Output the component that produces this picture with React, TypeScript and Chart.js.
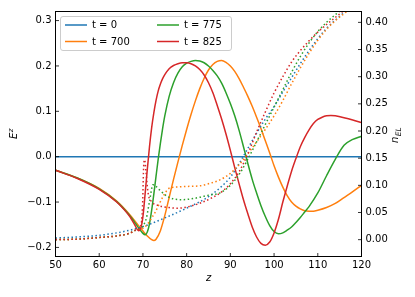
import React, { useEffect, useRef } from "react";
import { Chart, registerables } from "chart.js";

Chart.register(...registerables);

const FONT = "'DejaVu Sans', 'Liberation Sans', sans-serif";

// ---- tick labels ----
const xTickValues = [50, 60, 70, 80, 90, 100, 110, 120];
const eTickValues = [-0.2, -0.1, 0, 0.1, 0.2, 0.3];
const nTickValues = [0, 0.05, 0.1, 0.15, 0.2, 0.25, 0.3, 0.35, 0.4];

// ---- series ----
const seriesLabels = ["t = 0", "t = 700", "t = 775", "t = 825"];
const seriesColors = ["#1f77b4", "#ff7f0e", "#2ca02c", "#d62728"];

// E^z (left axis, solid)
const zE0 = [50, 120];
const e0 = [0, 0];

const zE700 = [50, 55, 60, 64, 67, 69, 70, 71, 72, 72.5, 73, 74, 75, 76, 77, 78, 79, 80, 81, 82, 83, 84, 85, 86, 87, 88, 89, 90, 91, 92, 93, 94, 95, 96, 97, 98, 99, 100, 101, 102, 103, 104, 105, 106, 107, 108, 109, 110, 112, 114, 116, 118, 120];
const e700 = [-0.03, -0.047, -0.07, -0.098, -0.128, -0.152, -0.164, -0.175, -0.183, -0.185, -0.182, -0.163, -0.13, -0.09, -0.05, -0.012, 0.025, 0.06, 0.093, 0.123, 0.15, 0.173, 0.191, 0.203, 0.21, 0.212, 0.208, 0.2, 0.188, 0.172, 0.153, 0.133, 0.111, 0.087, 0.062, 0.035, 0.008, -0.02, -0.045, -0.067, -0.086, -0.1, -0.109, -0.115, -0.119, -0.12, -0.12, -0.118, -0.112, -0.103, -0.09, -0.077, -0.063];

const zE775 = [50, 55, 60, 64, 67, 68, 69, 70, 70.5, 71, 71.5, 72, 72.5, 73, 73.5, 74, 74.5, 75, 76, 77, 78, 79, 80, 81, 82, 83, 84, 85, 86, 87, 88, 89, 90, 91, 92, 93, 94, 95, 96, 97, 98, 99, 100, 101, 102, 103, 104, 105, 106, 107, 108, 110, 112, 114, 116, 118, 120];
const e775 = [-0.03, -0.047, -0.071, -0.099, -0.13, -0.143, -0.157, -0.169, -0.172, -0.166, -0.148, -0.118, -0.082, -0.043, -0.005, 0.03, 0.062, 0.09, 0.133, 0.163, 0.184, 0.198, 0.206, 0.21, 0.212, 0.211, 0.207, 0.2, 0.19, 0.178, 0.162, 0.141, 0.117, 0.09, 0.058, 0.022, -0.015, -0.05, -0.08, -0.108, -0.132, -0.152, -0.165, -0.17, -0.168, -0.162, -0.155, -0.145, -0.134, -0.122, -0.11, -0.08, -0.042, -0.006, 0.025, 0.038, 0.045];

const zE825 = [50, 55, 60, 64, 66, 67, 68, 69, 69.5, 70, 70.5, 71, 71.5, 72, 72.5, 73, 73.5, 74, 74.5, 75, 76, 77, 78, 79, 80, 81, 82, 83, 84, 85, 86, 87, 88, 89, 90, 91, 92, 93, 94, 95, 96, 97, 98, 99, 100, 101, 102, 103, 104, 105, 106, 107, 108, 109, 110, 111, 112, 113, 114, 116, 118, 120];
const e825 = [-0.03, -0.048, -0.072, -0.1, -0.12, -0.132, -0.148, -0.163, -0.158, -0.132, -0.082, -0.028, 0.022, 0.064, 0.097, 0.124, 0.145, 0.16, 0.172, 0.181, 0.194, 0.201, 0.205, 0.207, 0.207, 0.205, 0.2, 0.192, 0.18, 0.163, 0.141, 0.113, 0.083, 0.05, 0.014, -0.024, -0.06, -0.095, -0.126, -0.155, -0.177, -0.191, -0.195, -0.188, -0.168, -0.138, -0.1, -0.065, -0.032, -0.004, 0.022, 0.042, 0.059, 0.073, 0.082, 0.087, 0.09, 0.091, 0.09, 0.086, 0.081, 0.075];

// n_EL (right axis, dotted)
const zN0 = [50, 55, 60, 65, 70, 75, 80, 85, 88, 90, 92, 94, 96, 98, 100, 102, 104, 106, 108, 110, 112, 114, 116, 118, 120];
const n0 = [0.003, 0.005, 0.008, 0.014, 0.024, 0.04, 0.058, 0.079, 0.098, 0.115, 0.14, 0.168, 0.196, 0.222, 0.245, 0.272, 0.298, 0.324, 0.348, 0.37, 0.389, 0.404, 0.418, 0.431, 0.443];

const zN700 = [50, 55, 60, 65, 67, 68.5, 69.5, 70, 71, 72, 72.7, 74, 75, 76.1, 78, 80, 83, 85, 87.6, 90, 92, 94, 96, 98, 100, 102, 104, 106, 108, 110, 112, 114, 116, 118, 120];
const n700 = [0, 0.001, 0.004, 0.008, 0.012, 0.018, 0.02, 0.021, 0.028, 0.04, 0.049, 0.07, 0.085, 0.095, 0.097, 0.098, 0.099, 0.103, 0.11, 0.122, 0.138, 0.158, 0.18, 0.203, 0.228, 0.256, 0.287, 0.316, 0.343, 0.367, 0.387, 0.403, 0.416, 0.428, 0.44];

const zN775 = [50, 55, 60, 65, 67, 68.5, 69.5, 70, 70.8, 71.5, 72.3, 73, 74, 75.5, 77, 79, 81, 83, 85, 87.6, 90, 92, 94, 96, 98, 100, 102, 104, 106, 108, 110, 112, 114, 116, 118, 120];
const n775 = [0, 0.001, 0.004, 0.008, 0.012, 0.018, 0.022, 0.025, 0.04, 0.07, 0.101, 0.098, 0.09, 0.08, 0.075, 0.0735, 0.075, 0.078, 0.082, 0.086, 0.1, 0.12, 0.148, 0.18, 0.212, 0.244, 0.276, 0.308, 0.337, 0.362, 0.383, 0.4, 0.414, 0.427, 0.439, 0.45];

const zN825 = [50, 55, 60, 65, 67, 68.5, 69.5, 69.9, 70.2, 70.4, 70.7, 71.2, 72, 73.5, 76, 78, 80, 83, 86, 88, 90, 92, 94, 96, 98, 100, 102, 104, 106, 108, 110, 112, 114, 116, 118, 120];
const n825 = [0, 0.001, 0.004, 0.008, 0.012, 0.018, 0.025, 0.06, 0.14, 0.147, 0.125, 0.085, 0.07, 0.063, 0.059, 0.058, 0.06, 0.067, 0.078, 0.088, 0.103, 0.125, 0.158, 0.198, 0.235, 0.27, 0.3, 0.327, 0.348, 0.366, 0.382, 0.396, 0.409, 0.422, 0.435, 0.448];

const eSeries = [
  [zE0, e0],
  [zE700, e700],
  [zE775, e775],
  [zE825, e825],
];
const nSeries = [
  [zN0, n0],
  [zN700, n700],
  [zN775, n775],
  [zN825, n825],
];

function pts(zs: number[], vs: number[]) {
  return zs.map((z, i) => ({ x: z, y: vs[i] }));
}

function fmtMinus(s: string) {
  return s.replace("-", "\u2212");
}

const decorPlugin = {
  id: "decor",
  afterDraw(chart: any) {
    const ctx: CanvasRenderingContext2D = chart.ctx;
    const { left, right, top, bottom } = chart.chartArea;
    ctx.save();

    // inward tick marks
    ctx.strokeStyle = "#000";
    ctx.lineWidth = 0.8;
    const tl = 3.5;
    const xs = chart.scales.x;
    xs.ticks.forEach((t: any) => {
      const p = xs.getPixelForValue(t.value);
      ctx.beginPath();
      ctx.moveTo(p, bottom);
      ctx.lineTo(p, bottom - tl);
      ctx.stroke();
    });
    const ys = chart.scales.y;
    ys.ticks.forEach((t: any) => {
      const p = ys.getPixelForValue(t.value);
      ctx.beginPath();
      ctx.moveTo(left, p);
      ctx.lineTo(left + tl, p);
      ctx.stroke();
    });
    const y2 = chart.scales.y2;
    y2.ticks.forEach((t: any) => {
      const p = y2.getPixelForValue(t.value);
      ctx.beginPath();
      ctx.moveTo(right, p);
      ctx.lineTo(right - tl, p);
      ctx.stroke();
    });

    // frame
    ctx.lineWidth = 1;
    ctx.strokeStyle = "#000";
    ctx.strokeRect(left, top, right - left, bottom - top);

    // axis titles
    ctx.fillStyle = "#000";
    ctx.textBaseline = "alphabetic";
    ctx.textAlign = "left";
    // left: E^z
    ctx.save();
    ctx.translate(17, 139);
    ctx.rotate(-Math.PI / 2);
    ctx.font = `italic 10px ${FONT}`;
    ctx.fillText("E", 0, 0);
    const wE = ctx.measureText("E").width;
    ctx.font = `italic 7px ${FONT}`;
    ctx.fillText("z", wE + 0.5, -4);
    ctx.restore();
    // right: n_EL
    ctx.save();
    ctx.translate(398, 143);
    ctx.rotate(-Math.PI / 2);
    ctx.font = `italic 10px ${FONT}`;
    ctx.fillText("n", 0, 0);
    const wn = ctx.measureText("n").width;
    ctx.font = `italic 7.5px ${FONT}`;
    ctx.fillText("EL", wn + 0.3, 2.5);
    ctx.restore();
    // bottom: z
    ctx.font = `italic 10px ${FONT}`;
    ctx.textAlign = "center";
    ctx.fillText("z", (left + right) / 2, 281);

    // legend
    const bx = 60.5, by = 16.5, bw = 171, bh = 34, r = 2.5;
    ctx.beginPath();
    ctx.moveTo(bx + r, by);
    ctx.lineTo(bx + bw - r, by);
    ctx.arcTo(bx + bw, by, bx + bw, by + r, r);
    ctx.lineTo(bx + bw, by + bh - r);
    ctx.arcTo(bx + bw, by + bh, bx + bw - r, by + bh, r);
    ctx.lineTo(bx + r, by + bh);
    ctx.arcTo(bx, by + bh, bx, by + bh - r, r);
    ctx.lineTo(bx, by + r);
    ctx.arcTo(bx, by, bx + r, by, r);
    ctx.closePath();
    ctx.fillStyle = "rgba(255,255,255,0.8)";
    ctx.fill();
    ctx.strokeStyle = "#cccccc";
    ctx.lineWidth = 1;
    ctx.stroke();

    const colX = [65, 157];
    const rowY = [25, 41.5];
    ctx.font = `10px ${FONT}`;
    ctx.textAlign = "left";
    ctx.textBaseline = "middle";
    for (let i = 0; i < seriesLabels.length; i++) {
      const c = Math.floor(i / 2);
      const rr = i % 2;
      const x0 = colX[c];
      const y0 = rowY[rr];
      ctx.strokeStyle = seriesColors[i];
      ctx.lineWidth = 1.5;
      ctx.beginPath();
      ctx.moveTo(x0, y0);
      ctx.lineTo(x0 + 22, y0);
      ctx.stroke();
      ctx.fillStyle = "#000";
      ctx.fillText(seriesLabels[i], x0 + 27, y0 + 0.5);
    }
    ctx.restore();
  },
};

export default function App() {
  const ref = useRef<HTMLCanvasElement | null>(null);

  useEffect(() => {
    if (!ref.current) return;
    const datasets: any[] = [];
    // matplotlib draw order: solids (blue..red), then dotted (blue..red); last drawn on top
    let order = 100;
    eSeries.forEach(([zs, vs], i) => {
      datasets.push({
        label: seriesLabels[i],
        data: pts(zs, vs),
        yAxisID: "y",
        borderColor: seriesColors[i],
        backgroundColor: seriesColors[i],
        borderWidth: 1.5,
        pointRadius: 0,
        fill: false,
        cubicInterpolationMode: "monotone",
        order: order--,
      });
    });
    nSeries.forEach(([zs, vs], i) => {
      datasets.push({
        label: seriesLabels[i] + " n_EL",
        data: pts(zs, vs),
        yAxisID: "y2",
        borderColor: seriesColors[i],
        backgroundColor: seriesColors[i],
        borderWidth: 1.5,
        borderDash: [1.5, 2.5],
        borderCapStyle: "butt",
        pointRadius: 0,
        fill: false,
        cubicInterpolationMode: "monotone",
        order: order--,
      });
    });

    const tickFont = { family: FONT, size: 10 };
    const chart = new Chart(ref.current, {
      type: "line",
      data: { datasets },
      options: {
        responsive: false,
        animation: false,
        devicePixelRatio: 1,
        events: [],
        layout: { padding: { top: 11.5, left: 0, right: 0, bottom: 0 } },
        plugins: {
          legend: { display: false },
          tooltip: { enabled: false },
        },
        scales: {
          x: {
            type: "linear",
            position: "bottom",
            min: 50,
            max: 120,
            grid: { display: false, drawTicks: false },
            border: { display: false },
            ticks: {
              font: tickFont,
              color: "#000",
              padding: 3,
              autoSkip: false,
              maxRotation: 0,
              callback: (v: any) => String(v),
            },
            afterBuildTicks: (s: any) => {
              s.ticks = xTickValues.map((v) => ({ value: v }));
            },
            afterFit: (s: any) => {
              s.height = 40.5;
            },
          },
          y: {
            type: "linear",
            position: "left",
            min: -0.22,
            max: 0.32,
            grid: { display: false, drawTicks: false },
            border: { display: false },
            ticks: {
              font: tickFont,
              color: "#000",
              padding: 4,
              autoSkip: false,
              callback: (v: any) => fmtMinus(Number(v).toFixed(1)),
            },
            afterBuildTicks: (s: any) => {
              s.ticks = eTickValues.map((v) => ({ value: v }));
            },
            afterFit: (s: any) => {
              s.width = 55.5;
            },
          },
          y2: {
            type: "linear",
            position: "right",
            min: -0.031,
            max: 0.42,
            grid: { display: false, drawTicks: false },
            border: { display: false },
            ticks: {
              font: tickFont,
              color: "#000",
              padding: 4,
              autoSkip: false,
              callback: (v: any) => fmtMinus(Number(v).toFixed(2)),
            },
            afterBuildTicks: (s: any) => {
              s.ticks = nTickValues.map((v) => ({ value: v }));
            },
            afterFit: (s: any) => {
              s.width = 53.5;
            },
          },
        },
      } as any,
      plugins: [decorPlugin],
    });
    return () => chart.destroy();
  }, []);

  return (
    <div style={{ position: "fixed", left: 0, top: 0, width: 415, height: 297, background: "#fff" }}>
      <canvas ref={ref} width={415} height={297} style={{ display: "block", width: 415, height: 297 }} />
    </div>
  );
}
